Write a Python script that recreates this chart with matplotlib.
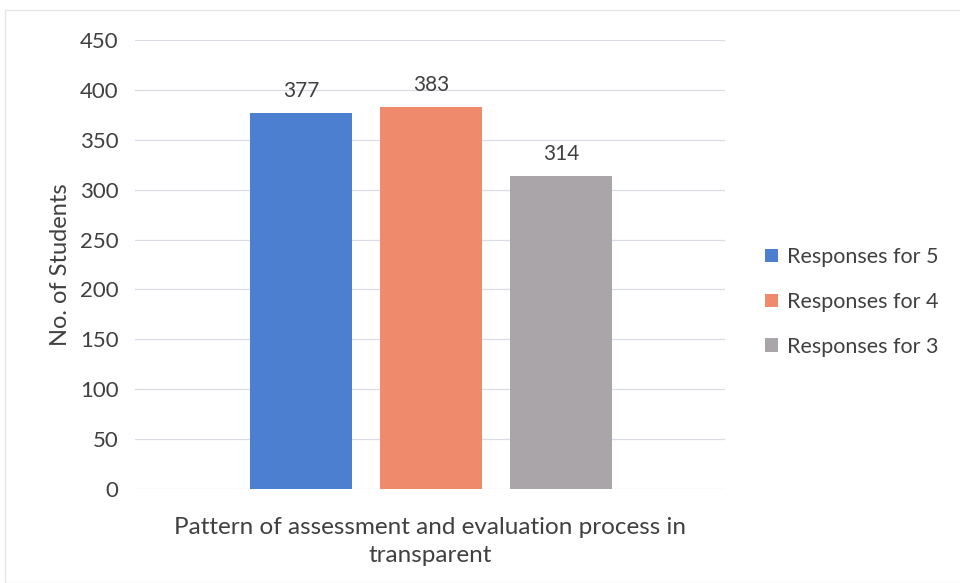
import matplotlib
matplotlib.use("Agg")
import matplotlib.pyplot as plt
from matplotlib.patches import Rectangle

series = ["Responses for 5", "Responses for 4", "Responses for 3"]
values = [377, 383, 314]
colors = ["#4d7fd1", "#ef8a6c", "#a9a5a8"]
category = "Pattern of assessment and evaluation process in\ntransparent"
yticks = [0, 50, 100, 150, 200, 250, 300, 350, 400, 450]

plt.rcParams["font.family"] = ["Lato", "DejaVu Sans"]
txt = "#404040"

fig = plt.figure(figsize=(9.6, 5.83), dpi=100)
ax = fig.add_axes([135 / 960, 1 - 489 / 583, 590 / 960, 449 / 583])

pos = [0, 1, 2]
bars = []
for p, v, c, s in zip(pos, values, colors, series):
    b = ax.bar(p, v, width=0.785, color=c, label=s, zorder=3)
    bars.append(b)
    ax.text(p, v + 12, str(v), ha="center", va="bottom", fontsize=15, color=txt)

ax.set_xlim(-1.277, 3.262)
ax.set_ylim(0, 450)
ax.set_yticks(yticks)
ax.set_yticklabels([str(t) for t in yticks], fontsize=16, color=txt)
ax.tick_params(axis="y", length=0, pad=12)
ax.set_xticks([])
ax.grid(axis="y", color="#dcdce8", linewidth=0.9, zorder=0)
for sp in ax.spines.values():
    sp.set_visible(False)
ax.set_ylabel("No. of Students", fontsize=17, color=txt, labelpad=6)
ax.set_xlabel(category, fontsize=17.5, color=txt, labelpad=20, linespacing=1.4)

fig.legend(handles=[b[0] for b in bars], labels=series, loc="center left",
           bbox_to_anchor=(746 / 960, 1 - 302 / 583), frameon=False,
           fontsize=15.5, labelcolor=txt, handlelength=0.6, handleheight=0.6,
           handletextpad=0.4, labelspacing=1.15)

# faint chart border
fig.patches.append(Rectangle((5 / 960, 0), 1.2, 1 - 10 / 583, transform=fig.transFigure,
                             fill=False, edgecolor="#e6e6e6", linewidth=1))

fig.savefig("out.png", dpi=100)
